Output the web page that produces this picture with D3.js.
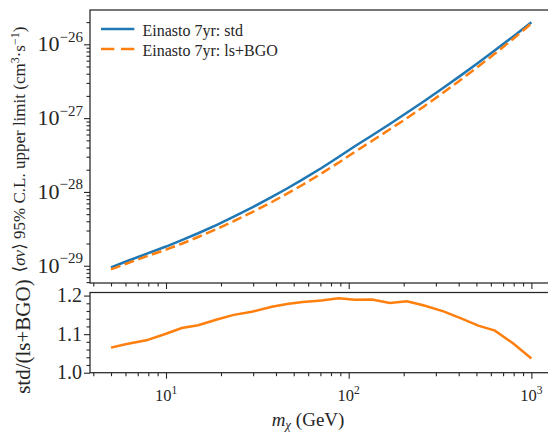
<!DOCTYPE html>
<html>
<head>
<meta charset="utf-8">
<script src="https://cdn.jsdelivr.net/npm/d3@7"></script>
<style>
  body { margin: 0; background: #fff; }
  svg { display: block; font-family: "Liberation Serif", "DejaVu Serif", serif; }
</style>
</head>
<body>
<script>
// dark matter mass grid (GeV)
const masses = [5, 6, 7.8, 10, 12.2, 15, 19, 23.5, 29.5, 38, 46, 56, 71, 88, 108, 134, 168, 208, 256, 330, 406, 512, 632, 796, 1000];
// <sigma v> upper limits, cm^3 s^-1
const sigmaStd = [9.51e-30, 1.132e-29, 1.449e-29, 1.820e-29, 2.218e-29, 2.754e-29, 3.589e-29, 4.613e-29, 6.124e-29, 8.551e-29,
    1.114e-28, 1.479e-28, 2.113e-28, 2.972e-28, 4.150e-28, 5.821e-28, 8.337e-28, 1.180e-27, 1.667e-27, 2.576e-27,
    3.707e-27, 5.623e-27, 8.299e-27, 1.279e-26, 1.986e-26];
const sigmaLsBgo = [8.930e-30, 1.054e-29, 1.337e-29, 1.653e-29, 1.987e-29, 2.452e-29, 3.154e-29, 4.011e-29, 5.288e-29, 7.302e-29,
    9.457e-29, 1.250e-28, 1.780e-28, 2.491e-28, 3.490e-28, 4.892e-28, 7.059e-28, 9.958e-28, 1.419e-27, 2.223e-27,
    3.246e-27, 5.012e-27, 7.483e-27, 1.189e-26, 1.915e-26];
// std / (ls+BGO)
const ratio = [1.065, 1.074, 1.084, 1.101, 1.116, 1.123, 1.138, 1.150, 1.158, 1.171, 1.178, 1.1835, 1.187, 1.193, 1.189,
    1.190, 1.181, 1.185, 1.175, 1.159, 1.142, 1.122, 1.109, 1.0756, 1.037];

const seriesNames = ["Einasto 7yr: std", "Einasto 7yr: ls+BGO"];
const xMajorTicks = [10, 100, 1000];
const xTickExp = ["1", "2", "3"];
const yMajorTicks = [1e-29, 1e-28, 1e-27, 1e-26];
const yTickExp = ["\u221229", "\u221228", "\u221227", "\u221226"];
const ratioTicks = [1.0, 1.1, 1.2];

const width = 548, height = 433;
const ink = "#262626";
const blue = "#1f77b4", orange = "#ff7f0e";

const svg = d3.select("body").append("svg")
    .attr("width", width)
    .attr("height", height);

// panel boxes
const left = 90, right = 552.4;
const topY0 = 10, topY1 = 283;
const botY0 = 292.5, botY1 = 372.7;

const x = d3.scaleLog().domain([10 ** 0.584, 10 ** 3.115]).range([left, right]);
const y = d3.scaleLog().domain([10 ** -29.234, 10 ** -25.535]).range([topY1, topY0]);
const yr = d3.scaleLinear().domain([1.0, 1.208]).range([botY1, botY0]);

// minor ticks
const xMinor = [];
[1, 10, 100].forEach(b => d3.range(2, 10).forEach(k => xMinor.push(b * k)));
const xMinorIn = xMinor.filter(v => v >= x.domain()[0] && v <= x.domain()[1]);
const yMinor = [];
[1e-30, 1e-29, 1e-28, 1e-27, 1e-26].forEach(b => d3.range(2, 10).forEach(k => yMinor.push(b * k)));
const yMinorIn = yMinor.filter(v => v >= y.domain()[0] && v <= y.domain()[1]);
const rMinor = d3.range(1.02, 1.2, 0.02).filter(v => Math.abs(v - 1.1) > 1e-6);

function styleAxis(g) {
    g.select(".domain").remove();
    g.selectAll("line").attr("stroke", ink).attr("stroke-width", 1.1);
}

// top panel axes
svg.append("g").attr("transform", `translate(0,${topY1})`)
    .call(d3.axisBottom(x).tickValues(xMajorTicks).tickSize(6).tickFormat(""))
    .call(styleAxis);
svg.append("g").attr("transform", `translate(0,${topY1})`)
    .call(d3.axisBottom(x).tickValues(xMinorIn).tickSize(3.5).tickFormat(""))
    .call(styleAxis);
svg.append("g").attr("transform", `translate(${left},0)`)
    .call(d3.axisLeft(y).tickValues(yMajorTicks).tickSize(6).tickFormat(""))
    .call(styleAxis);
svg.append("g").attr("transform", `translate(${left},0)`)
    .call(d3.axisLeft(y).tickValues(yMinorIn).tickSize(3.5).tickFormat(""))
    .call(styleAxis);

// bottom panel axes
svg.append("g").attr("transform", `translate(0,${botY1})`)
    .call(d3.axisBottom(x).tickValues(xMajorTicks).tickSize(6).tickFormat(""))
    .call(styleAxis);
svg.append("g").attr("transform", `translate(0,${botY1})`)
    .call(d3.axisBottom(x).tickValues(xMinorIn).tickSize(3.5).tickFormat(""))
    .call(styleAxis);
svg.append("g").attr("transform", `translate(${left},0)`)
    .call(d3.axisLeft(yr).tickValues(ratioTicks).tickSize(6).tickFormat(""))
    .call(styleAxis);
svg.append("g").attr("transform", `translate(${left},0)`)
    .call(d3.axisLeft(yr).tickValues(rMinor).tickSize(3.5).tickFormat(""))
    .call(styleAxis);

// tick labels
yMajorTicks.forEach((v, i) => {
    const t = svg.append("text")
        .attr("x", 83).attr("y", y(v) + 7)
        .attr("text-anchor", "end")
        .attr("fill", ink)
        .attr("font-size", 22);
    t.append("tspan").text("10");
    t.append("tspan").attr("dy", -9.5).attr("font-size", 15).text(yTickExp[i]);
});

xMajorTicks.forEach((v, i) => {
    const t = svg.append("text")
        .attr("x", x(v)).attr("y", 401)
        .attr("text-anchor", "middle")
        .attr("fill", ink)
        .attr("font-size", 16.5);
    t.append("tspan").text("10");
    t.append("tspan").attr("dy", -7).attr("font-size", 11.5).text(xTickExp[i]);
});

ratioTicks.forEach(v => {
    svg.append("text")
        .attr("x", 82).attr("y", yr(v) + 6.5)
        .attr("text-anchor", "end")
        .attr("fill", ink)
        .attr("font-size", 20)
        .text(d3.format(".1f")(v));
});

// curves
svg.append("clipPath").attr("id", "clipTop")
    .append("rect").attr("x", left).attr("y", topY0).attr("width", right - left).attr("height", topY1 - topY0);
svg.append("clipPath").attr("id", "clipBot")
    .append("rect").attr("x", left).attr("y", botY0).attr("width", right - left).attr("height", botY1 - botY0);

const lineTop = d3.line().x((d, i) => x(masses[i])).y(d => y(d));

svg.append("path")
    .datum(sigmaStd)
    .attr("clip-path", "url(#clipTop)")
    .attr("d", lineTop)
    .attr("fill", "none")
    .attr("stroke", blue)
    .attr("stroke-width", 2.5);

svg.append("path")
    .datum(sigmaLsBgo)
    .attr("clip-path", "url(#clipTop)")
    .attr("d", lineTop)
    .attr("fill", "none")
    .attr("stroke", orange)
    .attr("stroke-width", 2.5)
    .attr("stroke-dasharray", "10,4.5");

svg.append("path")
    .datum(ratio)
    .attr("clip-path", "url(#clipBot)")
    .attr("d", d3.line().x((d, i) => x(masses[i])).y(d => yr(d)))
    .attr("fill", "none")
    .attr("stroke", orange)
    .attr("stroke-width", 2.5);

// spines
svg.append("rect")
    .attr("x", left).attr("y", topY0)
    .attr("width", right - left).attr("height", topY1 - topY0)
    .attr("fill", "none").attr("stroke", ink).attr("stroke-width", 1.25);
svg.append("rect")
    .attr("x", left).attr("y", botY0)
    .attr("width", right - left).attr("height", botY1 - botY0)
    .attr("fill", "none").attr("stroke", ink).attr("stroke-width", 1.25);

// legend
const legend = svg.append("g");
[0, 1].forEach(i => {
    const ly = 29 + i * 20;
    legend.append("line")
        .attr("x1", 101).attr("x2", 134.3)
        .attr("y1", ly).attr("y2", ly)
        .attr("stroke", i === 0 ? blue : orange)
        .attr("stroke-width", 2.5)
        .attr("stroke-dasharray", i === 0 ? null : "13.3,6.7");
    legend.append("text")
        .attr("x", 142.5).attr("y", ly + 6.5)
        .attr("font-size", 16)
        .attr("fill", ink)
        .text(seriesNames[i]);
});

// axis titles
const yl = svg.append("text")
    .attr("transform", `translate(25,${(topY0 + topY1) / 2 + 3}) rotate(-90)`)
    .attr("text-anchor", "middle")
    .attr("font-size", 17)
    .attr("fill", ink);
yl.append("tspan").text("\u27e8");
yl.append("tspan").attr("font-style", "italic").text("\u03c3v");
yl.append("tspan").text("\u27e9 95% C.L. upper limit (cm");
yl.append("tspan").attr("dy", -6).attr("font-size", 12).text("3");
yl.append("tspan").attr("dy", 6).text("\u00b7s");
yl.append("tspan").attr("dy", -6).attr("font-size", 12).text("\u22121");
yl.append("tspan").attr("dy", 6).text(")");

svg.append("text")
    .attr("transform", `translate(30,${(botY0 + botY1) / 2 + 4}) rotate(-90)`)
    .attr("text-anchor", "middle")
    .attr("font-size", 21)
    .attr("fill", ink)
    .text("std/(ls+BGO)");

const xl = svg.append("text")
    .attr("x", 308).attr("y", 426)
    .attr("text-anchor", "middle")
    .attr("font-size", 19)
    .attr("fill", ink);
xl.append("tspan").attr("font-style", "italic").text("m");
xl.append("tspan").attr("font-style", "italic").attr("font-size", 13).attr("dy", 3).text("\u03c7");
xl.append("tspan").attr("dy", -3).text(" (GeV)");
</script>
</body>
</html>
